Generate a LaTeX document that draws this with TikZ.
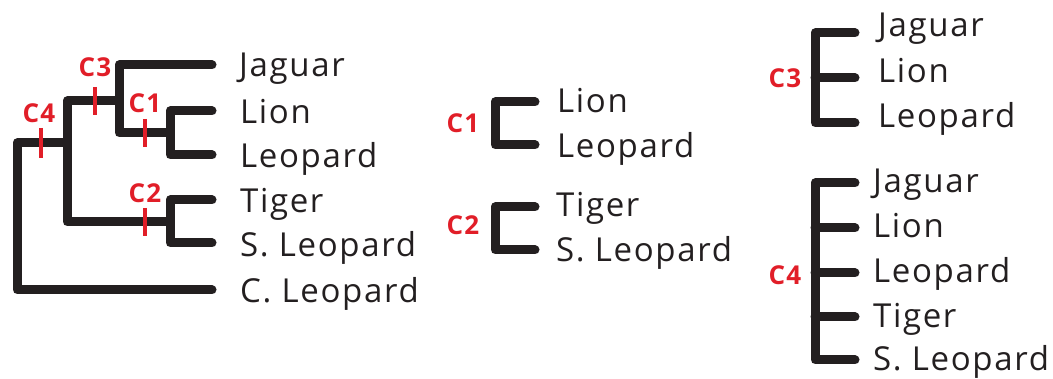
\documentclass[tikz,border=0pt]{standalone}
\usepackage{fontspec}
\setmainfont{Open Sans}[LetterSpace=5]
\definecolor{treeink}{RGB}{35,31,32}
\definecolor{cladered}{RGB}{225,30,40}
\tikzset{
  branch/.style={line width=9pt, draw=treeink, line cap=round, line join=round},
  cut/.style={line width=4.5pt, draw=cladered},
  taxon/.style={anchor=base west, inner sep=0pt, text=treeink, font=\fontsize{33}{38}\selectfont},
  clade/.style={anchor=base, inner sep=0pt, text=cladered, font=\bfseries\fontsize{26}{28}\selectfont},
}
\begin{document}
\begin{tikzpicture}[x=1pt, y=-1pt]
\useasboundingbox (0,0) rectangle (1053,379);
% Full tree: tips and inner nodes
\coordinate (jag) at (212,65);
\coordinate (lio) at (212,111);
\coordinate (leo) at (212,155);
\coordinate (tig) at (212,200);
\coordinate (sle) at (212,243);
\coordinate (cle) at (212,290);
\coordinate (c1) at (170,133);
\coordinate (c2) at (170,222);
\coordinate (c3) at (119,101);
\coordinate (c4) at (67,143);
\coordinate (root) at (17,143);
\draw[branch] (lio) -| (c1) |- (leo);
\draw[branch] (tig) -| (c2) |- (sle);
\draw[branch] (jag) -| (c3 |- c1) -- (c1);
\draw[branch] (c3) -| (c4 |- c2) -- (c2);
\draw[branch] (cle) -| (root) -- (c4);
% Tip names
\node[taxon] (tjag) at (239,77) {Jaguar};
\node[taxon] (tlio) at (240,124) {Lion};
\node[taxon] (tleo) at (240,168) {Leopard};
\node[taxon] (ttig) at (240,213) {Tiger};
\node[taxon] (tsle) at (240,257) {S. Leopard};
\node[taxon] (tcle) at (240,303) {C. Leopard};
% Red marks on the stems
\coordinate (m1) at (145,133);
\coordinate (m2) at (145,222);
\coordinate (m3) at (95,101);
\coordinate (m4) at (41,143);
\draw[cut] ([yshift=14pt]m1) -- ([yshift=-14pt]m1);
\draw[cut] ([yshift=14pt]m2) -- ([yshift=-14pt]m2);
\draw[cut] ([yshift=14pt]m3) -- ([yshift=-14pt]m3);
\draw[cut] ([yshift=15pt]m4) -- ([yshift=-15pt]m4);
\node[clade] (lc1) at (145,113) {C1};
\node[clade] (lc2) at (145,203) {C2};
\node[clade] (lc3) at (95,77) {C3};
\node[clade] (lc4) at (39,123) {C4};
% Clade C1 alone
\coordinate (a1) at (535,102);
\coordinate (a2) at (535,145);
\coordinate (av) at (495,102);
\draw[branch] (a1) -- (av) |- (a2);
\node[clade] (ka) at (463,133) {C1};
\node[taxon] (ta1) at (557,113) {Lion};
\node[taxon] (ta2) at (557,158) {Leopard};
% Clade C2 alone
\coordinate (b1) at (535,207);
\coordinate (b2) at (535,250);
\coordinate (bv) at (495,207);
\draw[branch] (b1) -- (bv) |- (b2);
\node[clade] (kb) at (463,235) {C2};
\node[taxon] (tb1) at (556,217) {Tiger};
\node[taxon] (tb2) at (556,262) {S. Leopard};
% Clade C3 as a comb
\coordinate (d1) at (855,33);
\coordinate (d2) at (855,78);
\coordinate (d3) at (855,123);
\coordinate (dv) at (815,33);
\draw[branch] (d1) -- (dv) |- (d3);
\draw[branch] (dv |- d2) -- (d2);
\node[clade] (kd) at (785,88) {C3};
\node[taxon] (td1) at (878,37) {Jaguar};
\node[taxon] (td2) at (878,83) {Lion};
\node[taxon] (td3) at (878,128) {Leopard};
% Clade C4 as a comb
\coordinate (e1) at (855,183);
\coordinate (e2) at (855,228);
\coordinate (e3) at (855,273);
\coordinate (e4) at (855,317);
\coordinate (e5) at (855,360);
\coordinate (ev) at (815,183);
\draw[branch] (e1) -- (ev) |- (e5);
\draw[branch] (ev |- e2) -- (e2);
\draw[branch] (ev |- e3) -- (e3);
\draw[branch] (ev |- e4) -- (e4);
\node[clade] (ke) at (785,285) {C4};
\node[taxon] (te1) at (873,193) {Jaguar};
\node[taxon] (te2) at (873,238) {Lion};
\node[taxon] (te3) at (873,283) {Leopard};
\node[taxon] (te4) at (873,328) {Tiger};
\node[taxon] (te5) at (873,371) {S. Leopard};
\end{tikzpicture}
\end{document}
